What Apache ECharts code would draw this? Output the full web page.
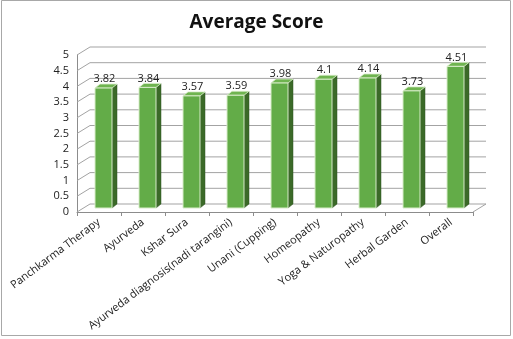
<!DOCTYPE html>
<html>
<head>
<meta charset="utf-8">
<style>
  html, body { margin: 0; padding: 0; background: #fff; }
  #main { width: 513px; height: 339px; }
</style>
</head>
<body>
<div id="main"></div>
<script src="https://cdn.jsdelivr.net/npm/echarts@6.0.0/dist/echarts.min.js"></script>
<script>
var categories = ['Panchkarma Therapy', 'Ayurveda', 'Kshar Sura', 'Ayurveda diagnosis(nadi tarangini)',
  'Unani (Cupping)', 'Homeopathy', 'Yoga & Naturopathy', 'Herbal Garden', 'Overall'];
var scores = [3.82, 3.84, 3.57, 3.59, 3.98, 4.1, 4.14, 3.73, 4.51];
var wallTicks = [0, 0.5, 1, 1.5, 2, 2.5, 3, 3.5, 4, 4.5, 5];

var chart = echarts.init(document.getElementById('main'));

// depth of the chart box (back wall offset) and of each bar
var DX = 13, DY = -8;
var BAR_W = 17, BAR_OX = 4.5, BAR_OY = -4, BAR_DX = 5, BAR_DY = -4;
var gridColor = '#a3a3a3';

function renderWall(params, api) {
  var cs = params.coordSys;
  var v = api.value(0);
  var p = api.coord([0, v]);
  var y = p[1];
  var x0 = cs.x, x1 = cs.x + cs.width;
  var kids = [
    { type: 'line', shape: { x1: x0 + DX, y1: y + DY, x2: x1 + DX, y2: y + DY },
      style: { stroke: gridColor, lineWidth: 1 } },
    { type: 'line', shape: { x1: x0, y1: y, x2: x0 + DX, y2: y + DY },
      style: { stroke: gridColor, lineWidth: 1 } }
  ];
  if (v === 0) {
    kids.push({ type: 'line', shape: { x1: x1, y1: y, x2: x1 + DX, y2: y + DY },
      style: { stroke: gridColor, lineWidth: 1 } });
  }
  return { type: 'group', children: kids };
}

function renderBar(params, api) {
  var i = api.value(0);
  var v = api.value(1);
  var top = api.coord([i, v]);
  var base = api.coord([i, 0]);
  var xl = top[0] - BAR_W / 2 + BAR_OX;
  var xr = xl + BAR_W;
  var yt = top[1] + BAR_OY;
  var yb = base[1] + BAR_OY;
  return {
    type: 'group',
    children: [
      { type: 'polygon', shape: { points: [[xr, yt], [xr + BAR_DX, yt + BAR_DY], [xr + BAR_DX, yb + BAR_DY], [xr, yb]] },
        style: { fill: '#3b6a28', stroke: '#2f5520', lineWidth: 0.5 } },
      { type: 'polygon', shape: { points: [[xl, yt], [xl + BAR_DX, yt + BAR_DY], [xr + BAR_DX, yt + BAR_DY], [xr, yt]] },
        style: { fill: '#6fb450', stroke: '#d8ecc9', lineWidth: 0.8 } },
      { type: 'rect', shape: { x: xl, y: yt, width: BAR_W, height: yb - yt },
        style: { fill: '#63ac48', stroke: '#d8ecc9', lineWidth: 1 } },
      { type: 'text', x: (xl + xr) / 2 + 1, y: yt - 9,
        style: { text: String(v), fill: '#222', font: '11px "Open Sans"', align: 'center', verticalAlign: 'middle' } }
    ]
  };
}

var option = {
  animation: false,
  backgroundColor: '#fff',
  title: {
    text: 'Average Score',
    left: 'center',
    top: 8,
    textStyle: { fontFamily: 'Open Sans', fontWeight: 'bold', fontSize: 19, color: '#111' }
  },
  graphic: [{
    type: 'rect', shape: { x: 1.5, y: 0.5, width: 509, height: 335 },
    style: { fill: 'none', stroke: '#a8a8a8', lineWidth: 1 }
  }],
  grid: { left: 77, right: 40, top: 55, bottom: 127 },
  xAxis: {
    type: 'category',
    data: categories,
    axisLine: { lineStyle: { color: '#8c8c8c' } },
    axisTick: { show: true, length: 4, lineStyle: { color: '#8c8c8c' } },
    axisLabel: { interval: 0, rotate: 37, margin: 9, fontFamily: 'Open Sans', fontSize: 11, color: '#222' }
  },
  yAxis: {
    type: 'value',
    min: 0, max: 5, interval: 0.5,
    axisLine: { show: true, lineStyle: { color: '#8c8c8c' } },
    axisTick: { show: false },
    splitLine: { show: false },
    axisLabel: { margin: 8, fontFamily: 'Open Sans', fontSize: 11, color: '#222' }
  },
  series: [
    {
      type: 'custom',
      renderItem: renderWall,
      data: wallTicks.map(function (t) { return [t]; }),
      encode: { y: 0 },
      silent: true,
      z: 1
    },
    {
      type: 'custom',
      renderItem: renderBar,
      data: scores.map(function (s, i) { return [i, s]; }),
      encode: { x: 0, y: 1 },
      z: 3
    }
  ]
};

chart.setOption(option);
</script>
</body>
</html>
